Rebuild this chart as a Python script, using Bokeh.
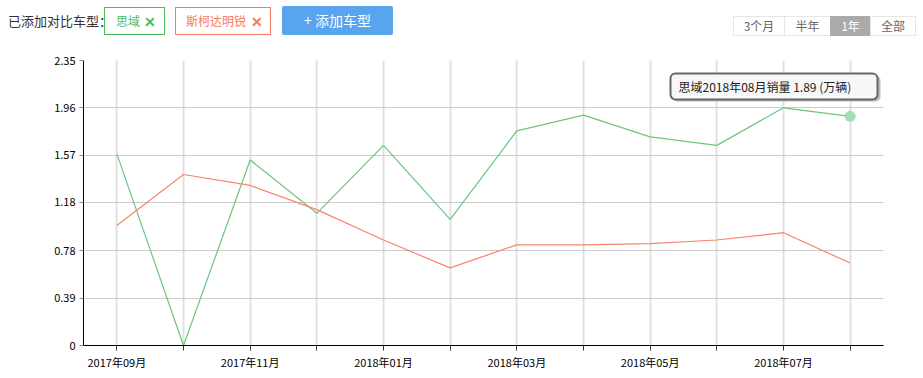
from bokeh.plotting import figure
from bokeh.layouts import column
from bokeh.models import (FactorRange, Range1d, FixedTicker, CustomJSTickFormatter,
                          Label, BoxAnnotation, ColumnDataSource, Div)
from bokeh.embed import file_html
from bokeh.resources import INLINE

months = ["2017年09月", "2017年10月", "2017年11月", "2017年12月", "2018年01月", "2018年02月",
          "2018年03月", "2018年04月", "2018年05月", "2018年06月", "2018年07月", "2018年08月"]
civic = [1.58, 0.0, 1.53, 1.09, 1.65, 1.04, 1.77, 1.90, 1.72, 1.65, 1.96, 1.89]
octavia = [0.99, 1.41, 1.32, 1.12, 0.87, 0.64, 0.83, 0.83, 0.84, 0.87, 0.93, 0.68]
y_ticks = [0, 0.39, 0.78, 1.18, 1.57, 1.96, 2.35]
series_names = ["思域", "斯柯达明锐"]
range_buttons = ["3个月", "半年", "1年", "全部"]

FONT = "Noto Sans CJK SC"
GREEN = "#6cc57f"
RED = "#f7846c"

W = 923
HH = 45            # header height
H = 378 - HH       # chart height
L, R, T, B = 83, 40, 15, 33

# ---------------- header (HTML) ----------------
def span(left, top, w, h, txt, color, size, extra=""):
    return (f'<div style="position:absolute;left:{left}px;top:{top}px;width:{w}px;height:{h}px;'
            f'line-height:{h}px;font-size:{size}px;color:{color};white-space:nowrap;{extra}">{txt}</div>')


def frame(left, top, w, h, extra):
    return (f'<div style="position:absolute;left:{left}px;top:{top}px;width:{w}px;height:{h}px;'
            f'box-sizing:border-box;{extra}"></div>')


parts = []
parts.append(span(8, 12, 100, 18, "已添加对比车型：", "#333333", 13))
parts.append(frame(104, 7, 61, 28, "border:1px solid #4cbb5f;"))
parts.append(span(116, 12, 30, 18, series_names[0], "#4cbb5f", 12))
parts.append(span(144, 12, 12, 18, "✕", "#4cbb5f", 14, "font-weight:bold;text-align:center;"))
parts.append(frame(175, 7, 96, 28, "border:1px solid #f47a62;"))
parts.append(span(186, 12, 64, 18, series_names[1], "#f47a62", 12))
parts.append(span(251, 12, 12, 18, "✕", "#f47a62", 14, "font-weight:bold;text-align:center;"))
parts.append(frame(282, 6, 111, 29, "background:#58a4ee;border-radius:2px;"))
parts.append(span(282, 6, 111, 29, "+ 添加车型", "white", 14, "text-align:center;"))
edges = [733, 784, 830, 870, 915]
for i, lab in enumerate(range_buttons):
    x0, x1 = edges[i], edges[i + 1]
    active = lab == "1年"
    bg = "background:#aaaaaa;" if active else ""
    parts.append(frame(x0, 16, x1 - x0 + 1, 20, bg + "border:1px solid " + ("#aaaaaa" if active else "#e6e6e6") + ";"))
    parts.append(span(x0, 16, x1 - x0 + 1, 20, lab, "white" if active else "#666666", 12,
                      "text-align:center;"))

header_html = (f'<div style="position:relative;width:{W}px;height:{HH}px;'
               f'font-family:\'{FONT}\';">' + "".join(parts) + "</div>")
hd = Div(text=header_html, width=W, height=HH, margin=(0, 0, 0, 0))

# ---------------- chart ----------------
p = figure(width=W, height=H, x_range=FactorRange(*months, range_padding=0),
           y_range=Range1d(0, 2.35), output_backend="svg", toolbar_location=None,
           min_border_left=L, min_border_right=R, min_border_top=T, min_border_bottom=B,
           margin=(0, 0, 0, 0))
p.outline_line_color = None
p.background_fill_color = "white"

src = ColumnDataSource(dict(m=months, civic=civic, octavia=octavia))
p.line("m", "civic", source=src, color=GREEN, line_width=1.2)
p.line("m", "octavia", source=src, color=RED, line_width=1.2)
last = ColumnDataSource(dict(m=[months[-1]], v=[civic[-1]]))
p.scatter("m", "v", source=last, size=11, color="#a6ddb3", line_color=None)

p.yaxis.ticker = FixedTicker(ticks=y_ticks)
p.yaxis.formatter = CustomJSTickFormatter(code='return tick == 0 ? "0" : tick.toFixed(2);')
p.yaxis.axis_line_color = "black"
p.yaxis.major_tick_line_color = "#888888"
p.yaxis.major_tick_out = 4
p.yaxis.major_tick_in = 0
p.yaxis.minor_tick_line_color = None
p.yaxis.major_label_text_font = FONT
p.yaxis.major_label_text_font_size = "11px"
p.yaxis.major_label_text_color = "black"
p.yaxis.major_label_standoff = 4

p.xaxis.formatter = CustomJSTickFormatter(code='return index % 2 == 0 ? tick : "";')
p.xaxis.axis_line_color = "black"
p.xaxis.major_tick_line_color = "#333333"
p.xaxis.major_tick_out = 5
p.xaxis.major_tick_in = 0
p.xaxis.major_label_text_font = FONT
p.xaxis.major_label_text_font_size = "11px"
p.xaxis.major_label_text_color = "black"
p.xaxis.major_label_standoff = 3

p.xgrid.grid_line_color = "#e0e0e0"
p.xgrid.grid_line_width = 2
p.ygrid.grid_line_color = "#cccccc"
p.ygrid.grid_line_width = 1

OFF_Y = HH


def sx(cx):
    return cx - L


def sy(cy):
    return (H - B) - (cy - OFF_Y)


def box(x0, y0, x1, y1, fill=None, line=None, lw=1, radius=0):
    b = BoxAnnotation(left=sx(x0), right=sx(x1), top=sy(y0), bottom=sy(y1),
                      left_units="screen", right_units="screen",
                      top_units="screen", bottom_units="screen",
                      fill_color=fill, fill_alpha=1.0 if fill else 0.0,
                      line_color=line, line_width=lw, line_alpha=1.0 if line else 0.0,
                      border_radius=radius, level="overlay")
    p.add_layout(b)


# tooltip
box(672, 75, 880, 101, fill="#bbbbbb", radius=5)
box(670, 73, 877, 99, fill="#f7f7f7", line="#666666", lw=2, radius=5)
p.add_layout(Label(x=sx(678), y=sy(86), x_units="screen", y_units="screen",
                   text=f"{series_names[0]}{months[-1]}销量 {civic[-1]:.2f} (万辆)",
                   text_font=FONT, text_font_size="12px", text_color="#222222",
                   text_baseline="middle", level="overlay"))

layout = column(hd, p, spacing=0, margin=(0, 0, 0, 0))
open("out.html", "w").write(file_html(layout, INLINE))
